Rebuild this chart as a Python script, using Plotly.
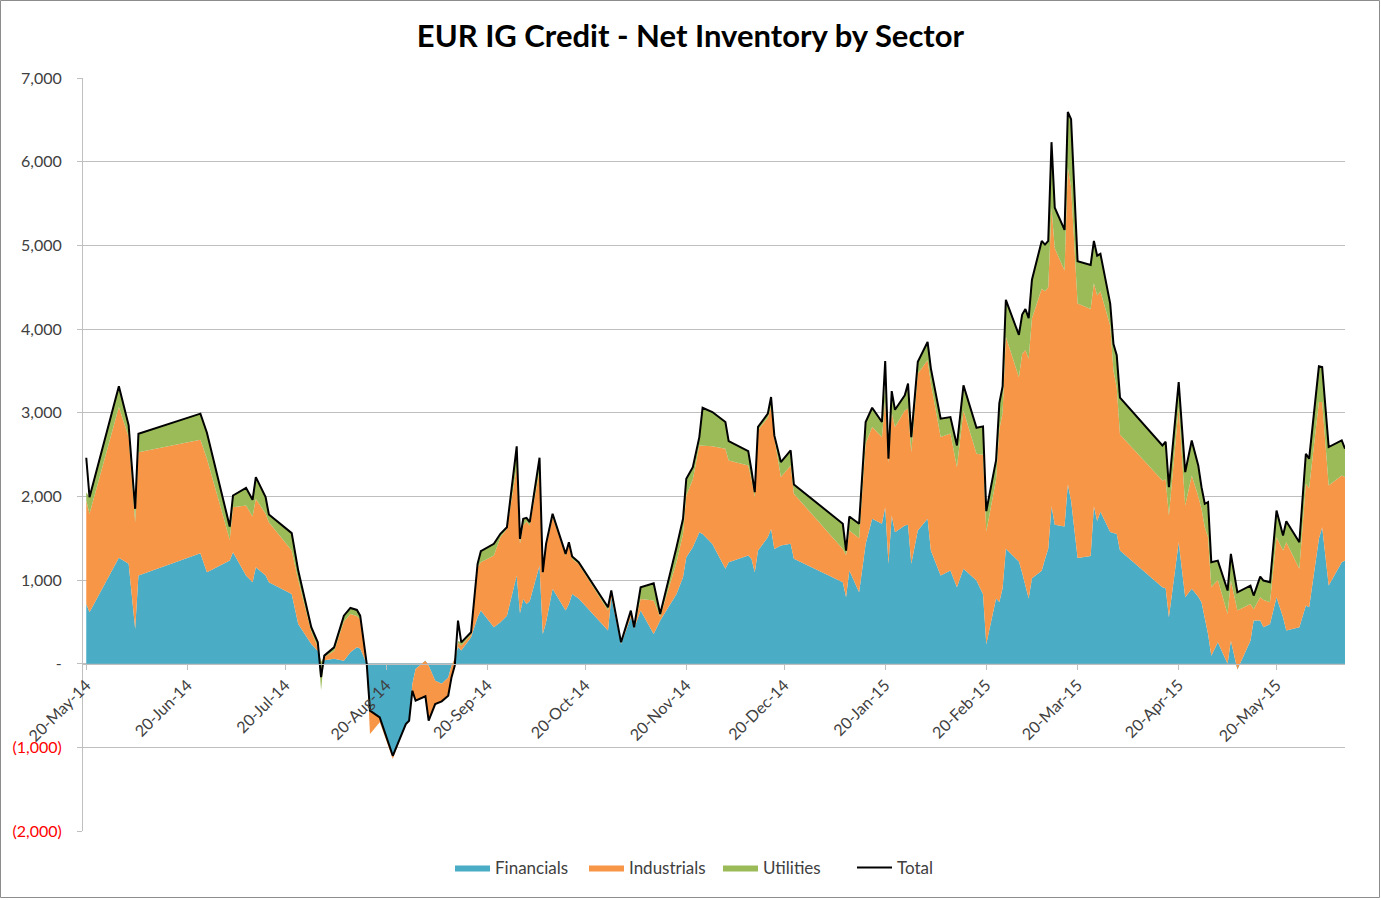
import plotly.graph_objects as go

dates = [
    "2014-05-20", "2014-05-21", "2014-05-30", "2014-06-02", "2014-06-04", "2014-06-05", "2014-06-24", "2014-06-26",
    "2014-07-03", "2014-07-04", "2014-07-08", "2014-07-10", "2014-07-11", "2014-07-14", "2014-07-15", "2014-07-22",
    "2014-07-24", "2014-07-28", "2014-07-30", "2014-07-31", "2014-08-01", "2014-08-04", "2014-08-07", "2014-08-09",
    "2014-08-11", "2014-08-12", "2014-08-14", "2014-08-15", "2014-08-18", "2014-08-22", "2014-08-26", "2014-08-27",
    "2014-08-28", "2014-08-29", "2014-09-01", "2014-09-02", "2014-09-04", "2014-09-06", "2014-09-08", "2014-09-09",
    "2014-09-10", "2014-09-11", "2014-09-12", "2014-09-15", "2014-09-17", "2014-09-18", "2014-09-22", "2014-09-24",
    "2014-09-26", "2014-09-29", "2014-09-30", "2014-10-01", "2014-10-02", "2014-10-03", "2014-10-06", "2014-10-07",
    "2014-10-08", "2014-10-10", "2014-10-14", "2014-10-15", "2014-10-16", "2014-10-18", "2014-10-27", "2014-10-28",
    "2014-10-31", "2014-11-03", "2014-11-04", "2014-11-06", "2014-11-10", "2014-11-12", "2014-11-17", "2014-11-19",
    "2014-11-20", "2014-11-22", "2014-11-24", "2014-11-25", "2014-11-28", "2014-12-02", "2014-12-03", "2014-12-09",
    "2014-12-10", "2014-12-11", "2014-12-12", "2014-12-15", "2014-12-16", "2014-12-17", "2014-12-19", "2014-12-22",
    "2014-12-23", "2015-01-07", "2015-01-08", "2015-01-09", "2015-01-12", "2015-01-14", "2015-01-16", "2015-01-19",
    "2015-01-20", "2015-01-21", "2015-01-22", "2015-01-23", "2015-01-26", "2015-01-27", "2015-01-28", "2015-01-30",
    "2015-02-02", "2015-02-03", "2015-02-06", "2015-02-09", "2015-02-11", "2015-02-13", "2015-02-17", "2015-02-19",
    "2015-02-20", "2015-02-23", "2015-02-24", "2015-02-25", "2015-02-26", "2015-03-02", "2015-03-03", "2015-03-04",
    "2015-03-05", "2015-03-06", "2015-03-09", "2015-03-10", "2015-03-11", "2015-03-12", "2015-03-13", "2015-03-16",
    "2015-03-17", "2015-03-18", "2015-03-20", "2015-03-24", "2015-03-25", "2015-03-26", "2015-03-27", "2015-03-30",
    "2015-03-31", "2015-04-01", "2015-04-02", "2015-04-15", "2015-04-16", "2015-04-17", "2015-04-20", "2015-04-22",
    "2015-04-24", "2015-04-26", "2015-04-27", "2015-04-28", "2015-04-29", "2015-04-30", "2015-05-02", "2015-05-05",
    "2015-05-06", "2015-05-08", "2015-05-12", "2015-05-13", "2015-05-15", "2015-05-16", "2015-05-18", "2015-05-20",
    "2015-05-22", "2015-05-23", "2015-05-27", "2015-05-29", "2015-05-30", "2015-06-02", "2015-06-03", "2015-06-05",
    "2015-06-09", "2015-06-10",
]

financials = [
    714, 614, 1265, 1193, 415, 1053, 1320, 1093,
    1232, 1332, 1053, 973, 1153, 1053, 973, 834,
    475, 236, 150, 20, 40, 60, 36, 135,
    195, 180, 0, -560, -640, -1100, -722, -682,
    -243, -64, 36, -24, -203, -240, -164, -24,
    60, 200, 156, 315, 554, 634, 434, 494,
    574, 1053, 602, 774, 714, 750, 1173, 355,
    494, 894, 634, 714, 834, 780, 395, 793,
    234, 554, 420, 634, 355, 515, 834, 1033,
    1272, 1392, 1571, 1550, 1430, 1133, 1212, 1292,
    1250, 1093, 1352, 1511, 1611, 1372, 1412, 1432,
    1253, 973, 793, 1113, 853, 1430, 1732, 1672,
    1871, 1193, 1771, 1571, 1651, 1660, 1193, 1591,
    1732, 1352, 1053, 1113, 913, 1133, 993, 830,
    236, 780, 736, 900, 1374, 1220, 1088, 950,
    780, 1022, 1110, 1250, 1374, 1881, 1661, 1639,
    2145, 1950, 1264, 1286, 1881, 1705, 1815, 1573,
    1560, 1551, 1352, 912, 900, 554, 1452, 793,
    894, 800, 734, 554, 355, 96, 255, 0,
    275, -70, 275, 515, 515, 435, 475, 793,
    554, 395, 435, 694, 674, 1492, 1631, 933,
    1212, 1232,
]

industrials = [
    1236, 1177, 1802, 1515, 1276, 1475, 1357, 1357,
    250, 539, 838, 786, 818, 738, 718, 518,
    525, 144, 50, 0, 40, 90, 464, 459,
    375, 350, 0, -280, -60, -40, 0, 0,
    -80, -380, -426, -658, -280, -210, -220, -140,
    -84, 50, 60, 30, 596, 578, 858, 1017,
    1037, 1296, 830, 877, 986, 900, 1136, 715,
    906, 856, 656, 706, 416, 410, 239, 57,
    6, 66, 5, 140, 399, 45, 378, 517,
    738, 808, 1037, 1058, 1170, 1435, 1217, 1077,
    950, 897, 1438, 1429, 1456, 1328, 818, 937,
    777, 399, 507, 478, 647, 1198, 1097, 1036,
    1276, 1207, 1229, 1258, 1376, 1390, 1335, 1876,
    1894, 2000, 1655, 1637, 1436, 1894, 1516, 1668,
    1344, 1420, 2064, 2100, 2533, 2203, 2612, 2800,
    2863, 3106, 3370, 3200, 3126, 3568, 3303, 3061,
    3789, 3750, 3040, 2952, 2665, 2695, 2635, 2467,
    1940, 1749, 1388, 1277, 1300, 1217, 1615, 1098,
    1356, 1200, 1116, 1077, 1156, 817, 745, 594,
    718, 704, 439, 135, 278, 325, 259, 718,
    798, 1055, 698, 1456, 1426, 1635, 1496, 1197,
    1038, 998,
]

utilities = [
    100, 199, 248, 140, 160, 220, 311, 310,
    157, 139, 211, 199, 259, 199, 92, 208,
    113, 55, 55, -340, 16, 45, 74, 72,
    72, 44, 0, 0, 0, 0, 0, 0,
    0, 0, 0, 0, 0, 0, 0, 0,
    0, 20, 39, 30, 43, 132, 140, 41,
    20, 248, 60, 81, 43, 41, 152, 23,
    32, 41, 22, 32, 30, 22, 40, 24,
    15, 14, 10, 139, 207, 34, 180, 182,
    200, 149, 100, 451, 407, 320, 231, 172,
    109, 60, 39, 48, 120, 28, 179, 180,
    112, 300, 52, 168, 172, 260, 230, 180,
    200, 49, 258, 206, 180, 297, 180, 142,
    219, 180, 220, 198, 259, 300, 311, 338,
    243, 232, 314, 313, 441, 506, 472, 488,
    485, 462, 573, 559, 553, 784, 485, 485,
    660, 756, 506, 528, 507, 476, 448, 264,
    319, 387, 440, 419, 452, 339, 299, 398,
    418, 369, 260, 280, 420, 299, 232, 280,
    319, 219, 219, 164, 248, 233, 239, 320,
    180, 253, 319, 359, 349, 427, 419, 459,
    418, 339,
]

total = [
    2461, 1990, 3315, 2848, 1851, 2748, 2988, 2760,
    1639, 2010, 2102, 1958, 2230, 1990, 1783, 1560,
    1113, 435, 255, -160, 96, 195, 574, 666,
    642, 574, 0, -562, -642, -1101, -722, -682,
    -323, -443, -390, -682, -483, -450, -383, -164,
    -24, 515, 255, 375, 1193, 1344, 1432, 1552,
    1631, 2597, 1492, 1732, 1743, 1691, 2461, 1093,
    1432, 1791, 1312, 1452, 1280, 1212, 674, 874,
    255, 634, 435, 913, 961, 594, 1392, 1732,
    2210, 2349, 2708, 3059, 3007, 2888, 2660, 2541,
    2309, 2050, 2829, 2988, 3187, 2728, 2409, 2549,
    2142, 1672, 1352, 1759, 1672, 2888, 3059, 2888,
    3617, 2449, 3258, 3035, 3207, 3347, 2708, 3609,
    3845, 3530, 2928, 2948, 2608, 3327, 2820, 2836,
    1823, 2432, 3114, 3313, 4348, 3929, 4172, 4238,
    4128, 4590, 5053, 5009, 5053, 6233, 5449, 5185,
    6594, 6506, 4810, 4766, 5053, 4876, 4898, 4304,
    3819, 3687, 3180, 2608, 2652, 2110, 3366, 2289,
    2668, 2369, 2110, 1911, 1931, 1212, 1232, 874,
    1312, 853, 933, 814, 1041, 993, 973, 1831,
    1532, 1703, 1452, 2509, 2449, 3554, 3546, 2589,
    2668, 2569,
]

assert len(dates) == len(financials) == len(industrials) == len(utilities) == len(total)

series_names = ["Financials", "Industrials", "Utilities"]
series_colors = ["#4BACC6", "#F79646", "#9BBB59"]

y_tickvals = [-2000, -1000, 0, 1000, 2000, 3000, 4000, 5000, 6000, 7000]
y_ticktext = [
    '<span style="color:#FF0000">(2,000)</span>',
    '<span style="color:#FF0000">(1,000)</span>',
    "-", "1,000", "2,000", "3,000", "4,000", "5,000", "6,000", "7,000",
]

FONT = "Lato, 'Open Sans', sans-serif"
GRID = "#BFBFBF"

fig = go.Figure()
for name, vals, col in zip(series_names, [financials, industrials, utilities], series_colors):
    fig.add_trace(go.Scatter(
        x=dates, y=vals, name=name, mode="lines", stackgroup="sectors",
        line=dict(width=0, color=col), fillcolor=col,
    ))
fig.add_trace(go.Scatter(
    x=dates, y=total, name="Total", mode="lines",
    line=dict(color="#000000", width=2),
))

L, R, T, B = 83, 36, 78, 69
W, H = 1381, 900
pw, ph = W - L - R, H - T - B

def px_x(px):
    return (px - L) / pw

def px_y(py):
    return (H - B - py) / ph

fig.update_layout(
    width=W, height=H,
    margin=dict(l=L, r=R, t=T, b=B),
    paper_bgcolor="white", plot_bgcolor="white",
    title=dict(text="<b>EUR IG Credit - Net Inventory by Sector</b>", x=0.5, xref="container",
               y=1 - 36 / H, yref="container", yanchor="middle", xanchor="center",
               font=dict(family=FONT, size=31, color="#000000")),
    showlegend=True,
    legend=dict(orientation="h", x=px_x(450), xanchor="left", y=px_y(868), yanchor="middle",
                font=dict(family=FONT, size=17, color="#404040"), traceorder="normal",
                itemwidth=35, entrywidth=84, entrywidthmode="pixels",
                bgcolor="rgba(0,0,0,0)"),
    xaxis=dict(
        type="date", range=["2014-05-19", "2015-06-10"],
        tick0="2014-05-20", dtick="M1", tickformat="%d-%b-%y", tickangle=-45,
        anchor="free", position=2 / 9,
        showline=True, linecolor=GRID, linewidth=1,
        ticks="outside", ticklen=5, tickcolor=GRID,
        showgrid=False, zeroline=False,
        tickfont=dict(family=FONT, size=16, color="#404040"),
    ),
    yaxis=dict(
        range=[-2000, 7000], tickmode="array", tickvals=y_tickvals, ticktext=y_ticktext,
        showgrid=True, gridcolor=GRID, gridwidth=1,
        showline=True, linecolor=GRID, linewidth=1,
        ticks="outside", ticklen=5, tickcolor=GRID,
        zeroline=False, ticklabelstandoff=12,
        tickfont=dict(family=FONT, size=16, color="#404040"),
    ),
    shapes=[dict(type="rect", xref="paper", yref="paper",
                 x0=px_x(0.5), x1=px_x(1379.5), y0=px_y(897.5), y1=px_y(0.5),
                 line=dict(color="#8C8C8C", width=1), fillcolor="rgba(0,0,0,0)", layer="below")],
)

fig.write_html("out.html", config={"displayModeBar": False},
               post_script="document.body.style.margin='0px';")
